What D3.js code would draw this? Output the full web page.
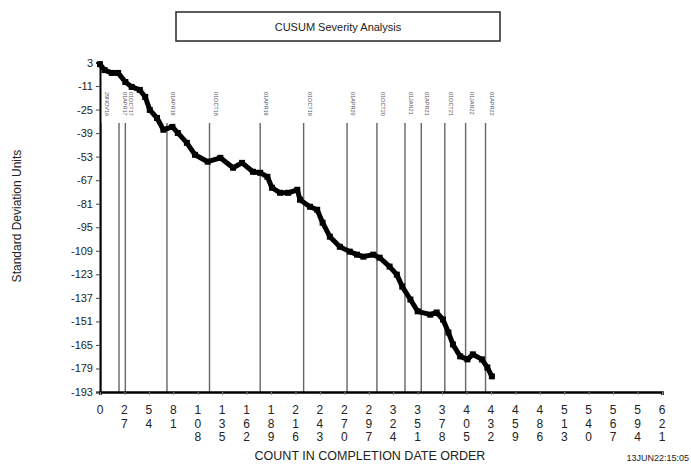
<!DOCTYPE html>
<html>
<head>
<meta charset="utf-8">
<script src="https://cdn.jsdelivr.net/npm/d3@7"></script>
<style>
  body { margin: 0; background: #fff; }
  text { font-family: "Liberation Sans", Arial, sans-serif; }
</style>
</head>
<body>
<div id="chart"></div>
<script>
// traced cumulative sum points [count, std dev units]
var counts = [0, 5, 13, 20, 28, 35, 44, 50, 55, 63, 70, 80, 86, 96, 105, 119, 133, 147, 157, 169, 177, 185, 190, 199, 208, 218, 221, 232, 240, 246, 254, 265, 276, 284, 291, 302, 309, 320, 328, 334, 343, 351, 365, 372, 379, 385, 390, 398, 406, 412, 422, 428, 433];
var cusum = [2, -1.5, -3.2, -3.2, -8.6, -11.5, -13.3, -17.5, -25.2, -30, -37, -35.3, -38.9, -44.8, -51.9, -56, -53.7, -59.6, -56.7, -62, -62.6, -65, -71.5, -74.5, -74.5, -72.7, -78.6, -82.8, -84.6, -92.3, -100.6, -106.6, -109.5, -111.3, -112.5, -111.3, -113.1, -118.4, -123.2, -130.3, -138, -145, -147, -145.7, -149.9, -157.6, -164.7, -171.8, -173.6, -170.6, -173.6, -178.4, -183.7];

// date markers
var markerCounts = [1, 21, 28, 74, 121, 177, 225, 273, 306, 337, 355, 381, 404, 426];
var markerLabels = ["29NOV16", "01APR17", "01OCT17", "01APR18", "01OCT18", "01APR19", "01OCT19", "01APR20", "01OCT20", "01JAN21", "01APR21", "01OCT21", "01JAN22", "01APR22"];

var xTicks = d3.range(0, 622, 27);
var yTicks = d3.range(3, -194, -14);

var width = 691, height = 466;
var svg = d3.select("#chart").append("svg")
    .attr("width", width)
    .attr("height", height);

var x = d3.scaleLinear().domain([0, 621]).range([100, 662]);
var y = d3.scaleLinear().domain([3, -193]).range([62.5, 392]);

// title box
svg.append("rect")
    .attr("x", 176).attr("y", 12)
    .attr("width", 324).attr("height", 29)
    .attr("fill", "#fff")
    .attr("stroke", "#333")
    .attr("stroke-width", 1.6);
svg.append("text")
    .attr("x", 338).attr("y", 31)
    .attr("text-anchor", "middle")
    .style("font-size", "11px")
    .style("fill", "#222")
    .text("CUSUM Severity Analysis");

// vertical marker lines
svg.selectAll(".mline")
    .data(markerCounts)
  .enter().append("line")
    .attr("class", "mline")
    .attr("x1", function(d) { return x(d); })
    .attr("x2", function(d) { return x(d); })
    .attr("y1", 123)
    .attr("y2", y(-193))
    .attr("stroke", "#666")
    .attr("stroke-width", 1.4);

svg.selectAll(".mlabel")
    .data(markerCounts)
  .enter().append("text")
    .attr("class", "mlabel")
    .attr("transform", function(d) { return "translate(" + (x(d) + 4) + ",92) rotate(90)"; })
    .style("font-size", "5.5px")
    .style("fill", "#556")
    .text(function(d, i) { return markerLabels[i]; });

// axes
var yAxis = d3.axisLeft(y).tickValues(yTicks).tickSize(4).tickFormat(function(d) { return String(d); });
var gy = svg.append("g")
    .attr("transform", "translate(100,0)")
    .call(yAxis);
gy.select(".domain").attr("stroke", "#000").attr("stroke-width", 2);
gy.selectAll(".tick line").attr("stroke", "#444");
gy.selectAll(".tick text")
    .attr("x", -7)
    .style("font-size", "11px")
    .style("font-family", "Liberation Sans, Arial, sans-serif")
    .style("fill", "#222");

var xAxis = d3.axisBottom(x).tickValues(xTicks).tickSize(3).tickFormat("");
var gx = svg.append("g")
    .attr("transform", "translate(0,392)")
    .call(xAxis);
gx.select(".domain").attr("stroke", "#000").attr("stroke-width", 2.5);
gx.selectAll(".tick line").attr("stroke", "#888");

// stacked digit tick labels
var xl = svg.selectAll(".xlab")
    .data(xTicks)
  .enter().append("text")
    .attr("class", "xlab")
    .attr("text-anchor", "middle")
    .style("font-size", "12px")
    .style("fill", "#222");
xl.each(function(d) {
  var t = d3.select(this);
  String(d).split("").forEach(function(ch, i) {
    t.append("tspan")
      .attr("x", x(d))
      .attr("y", 414 + i * 13.5)
      .text(ch);
  });
});

// cusum curve
var pts = counts.map(function(c, i) { return [c, cusum[i]]; });
var line = d3.line()
    .x(function(d) { return x(d[0]); })
    .y(function(d) { return y(d[1]); });
svg.append("path")
    .datum(pts)
    .attr("d", line)
    .attr("fill", "none")
    .attr("stroke", "#000")
    .attr("stroke-width", 5)
    .attr("stroke-linejoin", "round")
    .attr("stroke-linecap", "round");

svg.selectAll(".pt")
    .data(pts)
  .enter().append("rect")
    .attr("class", "pt")
    .attr("x", function(d) { return x(d[0]) - 3; })
    .attr("y", function(d) { return y(d[1]) - 3; })
    .attr("width", 6)
    .attr("height", 6)
    .attr("fill", "#000");

// axis titles
svg.append("text")
    .attr("transform", "translate(21,216) rotate(-90)")
    .attr("text-anchor", "middle")
    .style("font-size", "12px")
    .style("fill", "#222")
    .text("Standard Deviation Units");

svg.append("text")
    .attr("x", 370).attr("y", 460)
    .attr("text-anchor", "middle")
    .style("font-size", "12.5px")
    .style("fill", "#222")
    .text("COUNT IN COMPLETION DATE ORDER");

svg.append("text")
    .attr("x", 689).attr("y", 461)
    .attr("text-anchor", "end")
    .style("font-size", "9px")
    .style("fill", "#222")
    .text("13JUN22:15:05");
</script>
</body>
</html>
